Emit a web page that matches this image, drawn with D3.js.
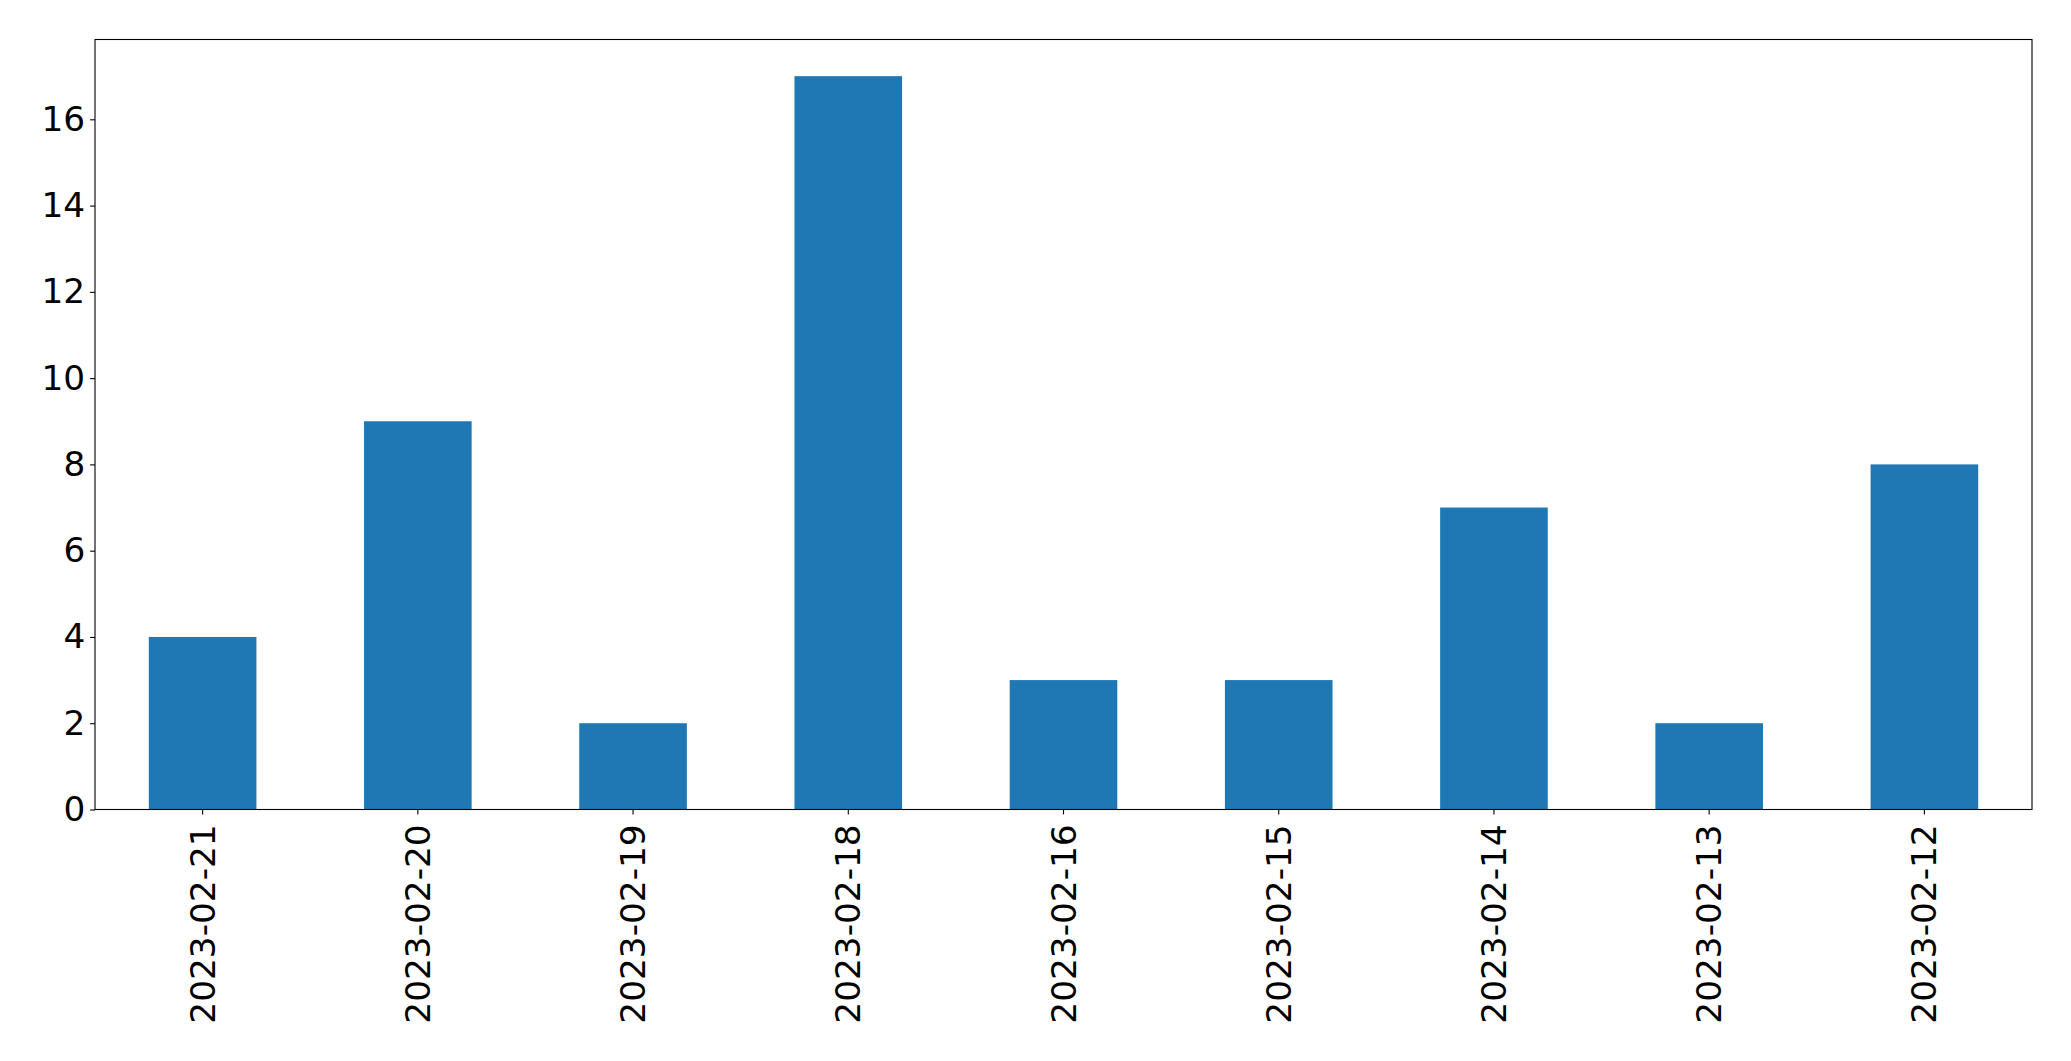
<!DOCTYPE html>
<html>
<head>
<meta charset="utf-8">
<script src="https://cdn.jsdelivr.net/npm/d3@7"></script>
<style>
  html, body { margin: 0; padding: 0; background: #fff; }
  svg { display: block; }
  text { font-family: "DejaVu Sans", sans-serif; fill: #000; }
</style>
</head>
<body>
<svg id="chart" width="2071" height="1061"></svg>
<script>
const categories = ["2023-02-21","2023-02-20","2023-02-19","2023-02-18","2023-02-16","2023-02-15","2023-02-14","2023-02-13","2023-02-12"];
const values = [4, 9, 2, 17, 3, 3, 7, 2, 8];
const yTicks = [0, 2, 4, 6, 8, 10, 12, 14, 16];

const W = 2071, H = 1061;
const margin = { left: 95, right: W - 2032, top: 39.5, bottom: H - 809.5 };
const svg = d3.select("#chart");
const iw = W - margin.left - margin.right;
const ih = H - margin.top - margin.bottom;
const g = svg.append("g").attr("transform", `translate(${margin.left},${margin.top})`);

const x = d3.scaleBand().domain(categories).range([0, iw]).paddingInner(0.5).paddingOuter(0.25);
const y = d3.scaleLinear().domain([0, d3.max(values) * 1.05]).range([ih, 0]);

g.selectAll("rect.bar").data(values).join("rect")
  .attr("class", "bar")
  .attr("x", (d, i) => x(categories[i]))
  .attr("width", x.bandwidth())
  .attr("y", d => y(d))
  .attr("height", d => y(0) - y(d))
  .attr("fill", "#1f77b4");

const tickLen = 4.9, pad = 4.9, fs = 34.3;

const yAxis = g.append("g").call(d3.axisLeft(y).tickValues(yTicks).tickFormat(d3.format("d")).tickSize(tickLen).tickPadding(pad));
yAxis.select(".domain").remove();
yAxis.selectAll("line").attr("stroke", "#000").attr("stroke-width", 1.1);
yAxis.selectAll("text").style("font-size", fs + "px").style("font-family", "DejaVu Sans, sans-serif").attr("fill", "#000");

const xAxis = g.append("g").attr("transform", `translate(0,${ih})`)
  .call(d3.axisBottom(x).tickSize(tickLen).tickPadding(pad));
xAxis.select(".domain").remove();
xAxis.selectAll("line").attr("stroke", "#000").attr("stroke-width", 1.1);
xAxis.selectAll("text")
  .style("font-size", fs + "px").style("font-family", "DejaVu Sans, sans-serif").attr("fill", "#000")
  .attr("transform", "rotate(-90)")
  .attr("x", -(tickLen + pad + 5))
  .attr("y", 0)
  .attr("dy", "0.35em")
  .attr("text-anchor", "end");

g.append("rect").attr("x", 0).attr("y", 0).attr("width", iw).attr("height", ih)
  .attr("fill", "none").attr("stroke", "#000").attr("stroke-width", 1.1);
</script>
</body>
</html>
